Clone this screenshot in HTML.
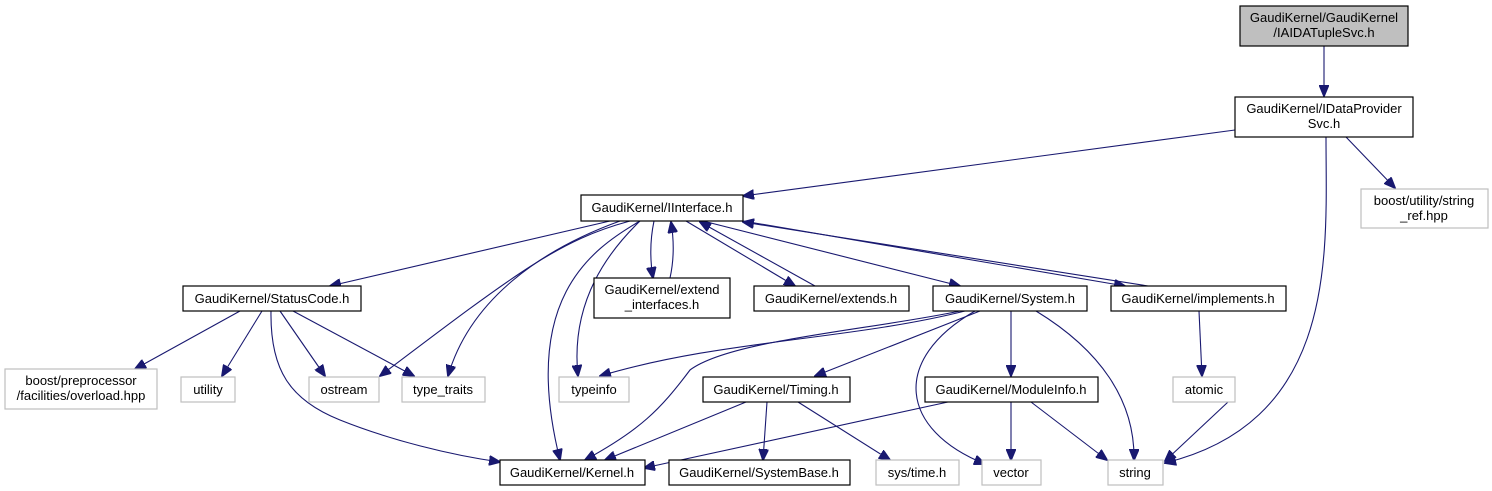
<!DOCTYPE html>
<html><head><meta charset="utf-8"><style>
html,body{margin:0;padding:0;background:#fff;}
svg{display:block;}
text{font-family:"Liberation Sans",sans-serif;font-size:13px;fill:#000;text-anchor:middle;}
.b{fill:#fff;stroke:#000;stroke-width:1.2;}
.g{fill:#fff;stroke:#bfbfbf;stroke-width:1.2;}
.e{fill:none;stroke:#191970;stroke-width:1.1;}
</style></head><body>
<svg width="1492" height="491" viewBox="0 0 1492 491">
<defs><marker id="a" markerWidth="12" markerHeight="10" refX="11" refY="5" orient="auto" markerUnits="userSpaceOnUse"><path d="M0,0 L12,5 L0,10 z" fill="#191970" stroke="#191970"/></marker></defs>
<g class="e">
<path d="M1324,46 L1324,96" marker-end="url(#a)"/>
<path d="M1235,130 L743,196" marker-end="url(#a)"/>
<path d="M1346,137 L1395,188" marker-end="url(#a)"/>
<path d="M1326,137 C1326,250 1340,420 1165,463" marker-end="url(#a)"/>
<path d="M610,221 L330,286" marker-end="url(#a)"/>
<path d="M630,221 C560,240 520,270 380,376" marker-end="url(#a)"/>
<path d="M620,221 C540,250 470,300 448,376" marker-end="url(#a)"/>
<path d="M640,221 C590,250 520,300 560,460" marker-end="url(#a)"/>
<path d="M640,221 C610,250 570,300 578,376" marker-end="url(#a)"/>
<path d="M654,221 C650,240 650,260 653,278" marker-end="url(#a)"/>
<path d="M670,278 C674,260 674,240 671,222" marker-end="url(#a)"/>
<path d="M686,221 L795,286" marker-end="url(#a)"/>
<path d="M815,286 L700,222" marker-end="url(#a)"/>
<path d="M703,221 L960,286" marker-end="url(#a)"/>
<path d="M1148,286 L743,222" marker-end="url(#a)"/>
<path d="M743,221 L1125,286" marker-end="url(#a)"/>
<path d="M1199,311 L1202,376" marker-end="url(#a)"/>
<path d="M240,311 L135,369" marker-end="url(#a)"/>
<path d="M262,311 L222,376" marker-end="url(#a)"/>
<path d="M280,311 L325,376" marker-end="url(#a)"/>
<path d="M293,311 L414,376" marker-end="url(#a)"/>
<path d="M271,311 C270,370 290,400 340,420 C390,440 450,455 500,462" marker-end="url(#a)"/>
<path d="M965,311 C850,340 720,340 600,376" marker-end="url(#a)"/>
<path d="M960,311 C870,330 730,340 690,370 C660,410 640,430 585,460" marker-end="url(#a)"/>
<path d="M980,311 L815,376" marker-end="url(#a)"/>
<path d="M975,311 C890,360 900,430 985,464" marker-end="url(#a)"/>
<path d="M1011,311 L1011,376" marker-end="url(#a)"/>
<path d="M1036,311 C1100,350 1135,400 1134,460" marker-end="url(#a)"/>
<path d="M746,402 L605,460" marker-end="url(#a)"/>
<path d="M767,402 L763,460" marker-end="url(#a)"/>
<path d="M798,402 L890,460" marker-end="url(#a)"/>
<path d="M948,402 L644,468" marker-end="url(#a)"/>
<path d="M1011,402 L1011,460" marker-end="url(#a)"/>
<path d="M1031,402 L1107,460" marker-end="url(#a)"/>
<path d="M1228,402 L1165,461" marker-end="url(#a)"/>
</g>
<rect x="1240" y="6" width="168" height="40" fill="#bfbfbf" stroke="#000" stroke-width="1.2"/>
<text x="1324" y="22">GaudiKernel/GaudiKernel</text><text x="1324" y="37">/IAIDATupleSvc.h</text>
<rect class="b" x="1235" y="97" width="178" height="40"/>
<text x="1324" y="113">GaudiKernel/IDataProvider</text><text x="1324" y="128">Svc.h</text>
<rect class="g" x="1361" y="189" width="127" height="39"/>
<text x="1424" y="205">boost/utility/string</text><text x="1424" y="220">_ref.hpp</text>
<rect class="b" x="581" y="195" width="162" height="26"/><text x="662" y="212">GaudiKernel/IInterface.h</text>
<rect class="b" x="183" y="286" width="178" height="25"/><text x="272" y="303">GaudiKernel/StatusCode.h</text>
<rect class="b" x="594" y="278" width="136" height="40"/>
<text x="662" y="294">GaudiKernel/extend</text><text x="662" y="309">_interfaces.h</text>
<rect class="b" x="754" y="286" width="155" height="25"/><text x="831" y="303">GaudiKernel/extends.h</text>
<rect class="b" x="933" y="286" width="154" height="25"/><text x="1010" y="303">GaudiKernel/System.h</text>
<rect class="b" x="1111" y="286" width="175" height="25"/><text x="1198" y="303">GaudiKernel/implements.h</text>
<rect class="g" x="5" y="369" width="152" height="40"/>
<text x="81" y="385">boost/preprocessor</text><text x="81" y="400">/facilities/overload.hpp</text>
<rect class="g" x="181" y="377" width="54" height="25"/><text x="208" y="394">utility</text>
<rect class="g" x="309" y="377" width="70" height="25"/><text x="344" y="394">ostream</text>
<rect class="g" x="402" y="377" width="83" height="25"/><text x="443" y="394">type_traits</text>
<rect class="g" x="559" y="377" width="70" height="25"/><text x="594" y="394">typeinfo</text>
<rect class="b" x="703" y="377" width="147" height="25"/><text x="776" y="394">GaudiKernel/Timing.h</text>
<rect class="b" x="925" y="377" width="173" height="25"/><text x="1011" y="394">GaudiKernel/ModuleInfo.h</text>
<rect class="g" x="1173" y="377" width="62" height="25"/><text x="1204" y="394">atomic</text>
<rect class="b" x="500" y="460" width="145" height="25"/><text x="572" y="477">GaudiKernel/Kernel.h</text>
<rect class="b" x="669" y="460" width="181" height="25"/><text x="759" y="477">GaudiKernel/SystemBase.h</text>
<rect class="g" x="876" y="460" width="83" height="25"/><text x="917" y="477">sys/time.h</text>
<rect class="g" x="982" y="460" width="59" height="25"/><text x="1011" y="477">vector</text>
<rect class="g" x="1108" y="460" width="55" height="25"/><text x="1135" y="477">string</text>
</svg>
</body></html>
